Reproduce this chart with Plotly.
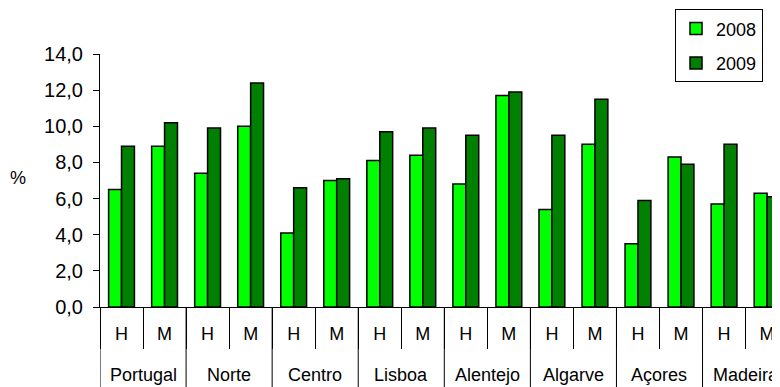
import plotly.graph_objects as go

regions = ["Portugal", "Norte", "Centro", "Lisboa", "Alentejo", "Algarve", "Açores", "Madeira"]
sexes = ["H", "M"]
v2008 = [6.5, 8.9, 7.4, 10.0, 4.1, 7.0, 8.1, 8.4, 6.8, 11.7, 5.4, 9.0, 3.5, 8.3, 5.7, 6.3]
v2009 = [8.9, 10.2, 9.9, 12.4, 6.6, 7.1, 9.7, 9.9, 9.5, 11.9, 9.5, 11.5, 5.9, 7.9, 9.0, 6.1]
y_ticks = [0, 2, 4, 6, 8, 10, 12, 14]

keys = [f"{r}|{s}" for r in regions for s in sexes]
inner = [s for _ in regions for s in sexes]

FONT = "Liberation Sans, Arial, sans-serif"

fig = go.Figure()
fig.add_trace(go.Bar(x=keys, y=v2008, name="2008", legendgroup="a",
                     marker=dict(color="#00FF00", line=dict(color="black", width=1.5))))
fig.add_trace(go.Bar(x=keys, y=v2009, name="2009", legendgroup="b",
                     marker=dict(color="#008000", line=dict(color="black", width=1.5))))

# region labels and group dividers below the axis
n_sex = len(sexes)
annotations = [dict(text="%", x=(10 - 92) / 680, y=(298.7 - 170) / 253,
                    xref="paper", yref="paper", showarrow=False,
                    xanchor="center", yanchor="middle", font=dict(size=18))]
shapes = []
for i, r in enumerate(regions):
    centre = i * n_sex + (n_sex - 1) / 2
    annotations.append(dict(text=r, x=centre, y=-0.27, xref="x", yref="paper",
                            showarrow=False, xanchor="center", yanchor="middle",
                            font=dict(size=18)))
    left = i * n_sex - 0.5
    shapes.append(dict(type="line", xref="x", yref="paper", x0=left, x1=left,
                       y0=0, y1=-0.35, line=dict(color="black", width=1)))

fig.update_layout(
    width=772, height=379,
    margin=dict(l=92, r=0, t=46, b=80),
    paper_bgcolor="white", plot_bgcolor="white",
    separators=", ",
    barmode="group", bargap=0.4, bargroupgap=0,
    font=dict(family=FONT, size=18, color="black"),
    showlegend=True,
    legend=dict(x=0.8456, y=1.1767, xanchor="left", yanchor="top",
                bordercolor="black", borderwidth=1, bgcolor="white",
                font=dict(size=18), tracegroupgap=8, traceorder="grouped"),
    xaxis=dict(type="category", range=[-0.5, 15.3], automargin=False,
               tickvals=keys, ticktext=inner,
               showline=True, linecolor="black", linewidth=1,
               ticks="outside", tickson="boundaries", ticklen=41, tickcolor="black",
               ticklabelstandoff=10,
               tickfont=dict(size=18), showgrid=False),
    yaxis=dict(range=[0, 14], tickvals=y_ticks, tickformat=".1f", automargin=False,
               showline=True, linecolor="black", linewidth=1,
               ticks="outside", ticklen=6, tickcolor="black", ticklabelstandoff=6,
               showgrid=False, zeroline=False, tickfont=dict(size=20)),
    annotations=annotations,
    shapes=shapes,
)

fig.write_html("out.html")
